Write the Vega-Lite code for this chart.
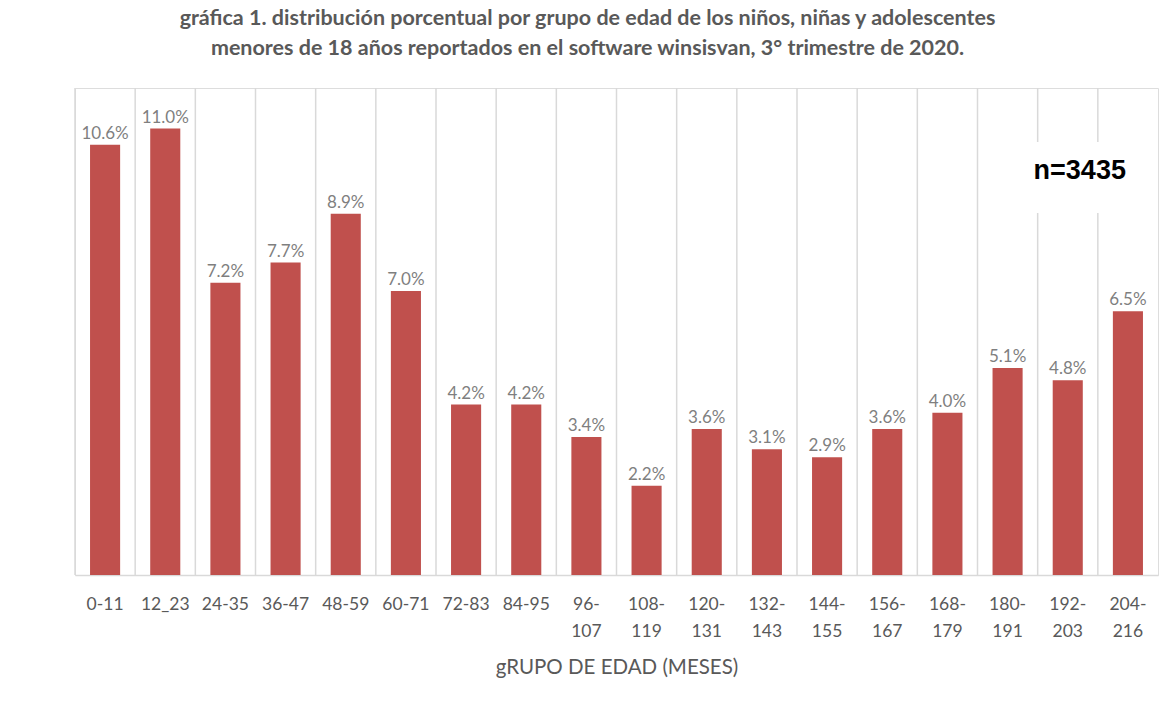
{
  "$schema": "https://vega.github.io/schema/vega-lite/v6.json",
  "autosize": "none",
  "width": 1083,
  "height": 487,
  "padding": {"left": 75, "top": 88, "right": 14, "bottom": 130},
  "background": "white",
  "title": {
    "text": ["gráfica 1. distribución porcentual por grupo de edad de los niños, niñas y adolescentes", "menores de 18 años reportados en el software winsisvan, 3° trimestre de 2020."],
    "font": "Lato",
    "fontSize": 21.5,
    "fontWeight": "bold",
    "color": "#595959",
    "anchor": "middle",
    "frame": "group",
    "dx": -29,
    "offset": 28,
    "lineHeight": 30
  },
  "data": {
    "values": [
      {"grupo": "0-11", "pct": 0.106},
      {"grupo": "12_23", "pct": 0.110},
      {"grupo": "24-35", "pct": 0.072},
      {"grupo": "36-47", "pct": 0.077},
      {"grupo": "48-59", "pct": 0.089},
      {"grupo": "60-71", "pct": 0.070},
      {"grupo": "72-83", "pct": 0.042},
      {"grupo": "84-95", "pct": 0.042},
      {"grupo": "96-107", "pct": 0.034},
      {"grupo": "108-119", "pct": 0.022},
      {"grupo": "120-131", "pct": 0.036},
      {"grupo": "132-143", "pct": 0.031},
      {"grupo": "144-155", "pct": 0.029},
      {"grupo": "156-167", "pct": 0.036},
      {"grupo": "168-179", "pct": 0.040},
      {"grupo": "180-191", "pct": 0.051},
      {"grupo": "192-203", "pct": 0.048},
      {"grupo": "204-216", "pct": 0.065}
    ]
  },
  "encoding": {
    "x": {
      "field": "grupo",
      "type": "nominal",
      "sort": null,
      "scale": {"paddingInner": 0, "paddingOuter": 0},
      "axis": {
        "title": "gRUPO DE EDAD (MESES)",
        "titleFont": "Lato",
        "titleFontSize": 20.5,
        "titleFontWeight": "normal",
        "titleColor": "#595959",
        "titlePadding": 18,
        "labelFont": "Lato",
        "labelFontSize": 17.5,
        "labelColor": "#595959",
        "labelAngle": 0,
        "labelPadding": 20,
        "labelLineHeight": 27,
        "labelExpr": "length(datum.label) > 5 ? [slice(datum.label, 0, indexof(datum.label, '-') + 1), slice(datum.label, indexof(datum.label, '-') + 1)] : datum.label",
        "ticks": false,
        "grid": false,
        "domainColor": "#d9d9d9",
        "domainWidth": 1.5
      }
    }
  },
  "layer": [
    {
      "mark": {"type": "rule", "color": "#d9d9d9", "strokeWidth": 1.5},
      "encoding": {
        "x": {"field": "grupo", "type": "nominal", "sort": null, "bandPosition": 0}
      }
    },
    {
      "mark": {"type": "bar", "color": "#C0504D", "width": {"band": 0.5}},
      "encoding": {
        "y": {"field": "pct", "type": "quantitative", "scale": {"domain": [0, 0.12], "nice": false}, "axis": null}
      }
    },
    {
      "mark": {"type": "text", "baseline": "bottom", "dy": -2, "font": "Lato", "fontSize": 17, "color": "#7f7f7f"},
      "encoding": {
        "y": {"field": "pct", "type": "quantitative"},
        "text": {"field": "pct", "type": "quantitative", "format": ".1%"}
      }
    },
    {
      "data": {"values": [{"n": "n=3435"}]},
      "layer": [
        {
          "mark": {"type": "bar", "color": "white", "width": 80},
          "encoding": {
            "x": {"datum": "192-203"},
            "y": {"datum": 0.1067},
            "y2": {"datum": 0.0892}
          }
        },
        {
          "mark": {"type": "text", "font": "Liberation Sans", "fontSize": 27, "fontWeight": "bold", "color": "#000000", "dx": 12},
          "encoding": {
            "x": {"datum": "192-203"},
            "y": {"datum": 0.0995},
            "text": {"field": "n"}
          }
        }
      ]
    }
  ]
}
